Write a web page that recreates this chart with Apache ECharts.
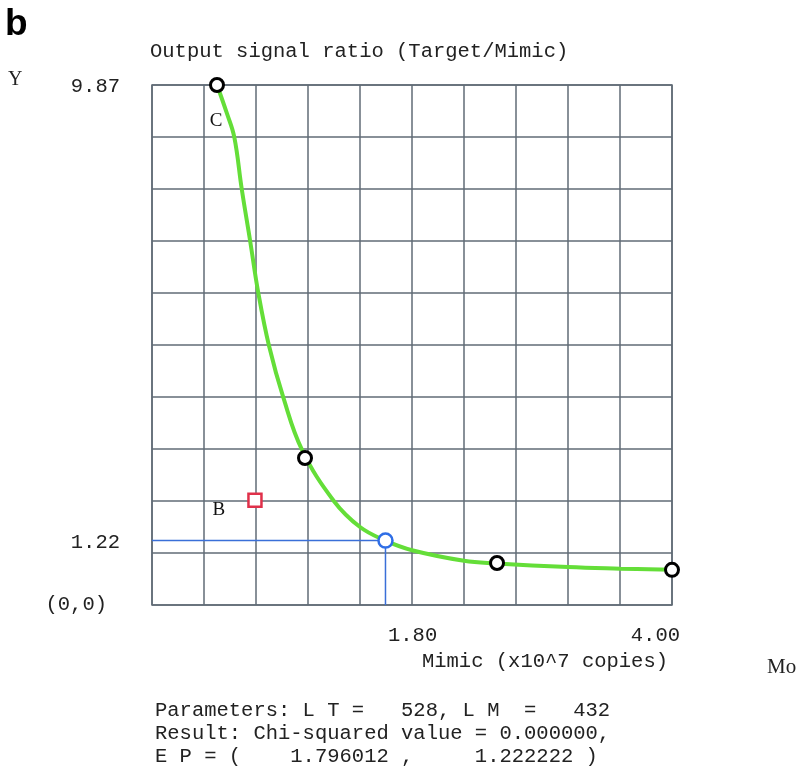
<!DOCTYPE html>
<html lang="en">

<head>
    <meta charset="UTF-8">
    <title>Output signal ratio (Target/Mimic)</title>
    <script src="https://cdn.jsdelivr.net/npm/echarts@6/dist/echarts.min.js"></script>
    <style>
        body {
            margin: 0;
            background: #fff;
        }

        #chart {
            width: 800px;
            height: 772px;
        }
    </style>
</head>

<body>
    <div id="chart"></div>
</body>
<script>
    // measured points (black circles)
    var pointX = [0.50, 1.177, 2.654, 4.00];
    var pointY = [9.87, 2.79, 0.797, 0.667];
    // fitted curve
    var curveX = [0.50, 0.575, 0.633, 0.69, 0.755, 0.818, 0.90, 1.01, 1.155, 1.40, 1.60, 1.796, 2.00, 2.40, 2.65, 3.20, 3.60, 4.00];
    var curveY = [9.87, 9.34, 8.88, 7.90, 6.91, 5.92, 4.92, 3.94, 2.94, 1.97, 1.48, 1.222, 1.04, 0.84, 0.79, 0.72, 0.69, 0.667];
    // equivalence point (blue) and point B (red)
    var epX = 1.796012;
    var epY = 1.222222;
    var pointB = [0.792, 1.99];
    // axis
    var xMax = 4.0;
    var yMax = 9.87;
    var xTickLabels = [1.80, 4.00];
    var yTickLabels = [9.87, 1.22];

    var mono = "'Liberation Mono', 'DejaVu Sans Mono', monospace";
    var serif = "'Liberation Serif', 'DejaVu Serif', serif";
    var gridColor = "#616b76";

    var chart = echarts.init(document.getElementById("chart"));

    function zip(xs, ys) {
        return xs.map(function (x, i) {
            return [x, ys[i]];
        });
    }

    var circleData = zip(pointX, pointY).map(function (p, i) {
        var item = { value: p };
        if (i === 0) {
            item.label = {
                show: true,
                formatter: "C",
                position: "bottom",
                distance: 19,
                offset: [-1, 0],
                fontFamily: serif,
                fontSize: 19,
                color: "#111"
            };
        }
        return item;
    });

    var option = {
        animation: false,
        grid: {
            left: 152,
            top: 85,
            width: 520,
            height: 520,
            show: true,
            borderColor: gridColor,
            borderWidth: 1.5
        },
        xAxis: {
            type: "value",
            min: 0,
            max: xMax,
            interval: xMax / 10,
            axisLine: { show: false },
            axisTick: { show: false },
            axisLabel: { show: false },
            splitLine: { show: true, lineStyle: { color: gridColor, width: 1.5 } }
        },
        yAxis: {
            type: "value",
            min: 0,
            max: yMax,
            interval: yMax / 10,
            axisLine: { show: false },
            axisTick: { show: false },
            axisLabel: { show: false },
            splitLine: { show: true, lineStyle: { color: gridColor, width: 1.5 } }
        },
        series: [{
                // blue guide lines to the equivalence point
                type: "line",
                data: [[0, epY], [epX, epY]],
                symbol: "none",
                lineStyle: { color: "#3a6fd8", width: 1.5 },
                z: 3
            },
            {
                type: "line",
                data: [[epX, epY], [epX, 0]],
                symbol: "none",
                lineStyle: { color: "#3a6fd8", width: 1.5 },
                z: 3
            },
            {
                type: "line",
                data: zip(curveX, curveY),
                smooth: 0.4,
                symbol: "none",
                lineStyle: { color: "#64de38", width: 4 },
                z: 4
            },
            {
                type: "scatter",
                data: circleData,
                symbol: "circle",
                symbolSize: 13,
                itemStyle: { color: "#fff", borderColor: "#000", borderWidth: 3, opacity: 1 },
                z: 5
            },
            {
                type: "scatter",
                data: [[epX, epY]],
                symbol: "circle",
                symbolSize: 14,
                itemStyle: { color: "#fff", borderColor: "#2f6ee6", borderWidth: 2.5, opacity: 1 },
                z: 6
            },
            {
                type: "scatter",
                data: [pointB],
                symbol: "rect",
                symbolSize: 13,
                itemStyle: { color: "#fff", borderColor: "#e0304a", borderWidth: 2.5, opacity: 1 },
                label: {
                    show: true,
                    formatter: "B",
                    position: "left",
                    distance: 22,
                    offset: [0, 10],
                    fontFamily: serif,
                    fontSize: 19,
                    color: "#111"
                },
                z: 6
            }
        ]
    };
    chart.setOption(option);

    // tick labels and texts placed through the axes
    var graphic = [];
    function text(x, y, str, opts) {
        var style = {
            x: x,
            y: y,
            text: str,
            font: (opts.weight || "normal") + " " + (opts.size || 20.5) + "px " + (opts.family || mono),
            fill: opts.fill || "#222",
            textAlign: opts.align || "left",
            textVerticalAlign: "middle"
        };
        graphic.push({ type: "text", style: style });
    }

    xTickLabels.forEach(function (v, i) {
        var p = chart.convertToPixel({ gridIndex: 0 }, [v, 0]);
        if (i === xTickLabels.length - 1) {
            text(p[0] + 8, p[1] + 31, v.toFixed(2), { align: "right" });
        } else {
            text(p[0] + 2, p[1] + 31, v.toFixed(2), {});
        }
    });
    yTickLabels.forEach(function (v) {
        var p = chart.convertToPixel({ gridIndex: 0 }, [0, v]);
        text(p[0] - 32, p[1] + 2, v.toFixed(2), { align: "right" });
    });
    var origin = chart.convertToPixel({ gridIndex: 0 }, [0, 0]);
    text(origin[0] - 45, origin[1], "(0,0)", { align: "right" });

    text(5, 25, "b", { size: 37, weight: "bold", family: "'Liberation Sans', Arial, sans-serif", fill: "#000" });
    text(150, 52, "Output signal ratio (Target/Mimic)", {});
    text(8, 80, "Y", { family: serif, size: 20 });
    text(668, 662, "Mimic (x10^7 copies)", { align: "right" });
    text(767, 667, "Mo", { family: serif, size: 21 });
    text(155, 711, "Parameters: L T =   528, L M  =   432", {});
    text(155, 734, "Result: Chi-squared value = 0.000000,", {});
    text(155, 757, "E P = (    1.796012 ,     1.222222 )", {});

    chart.setOption({ graphic: graphic });
</script>

</html>
